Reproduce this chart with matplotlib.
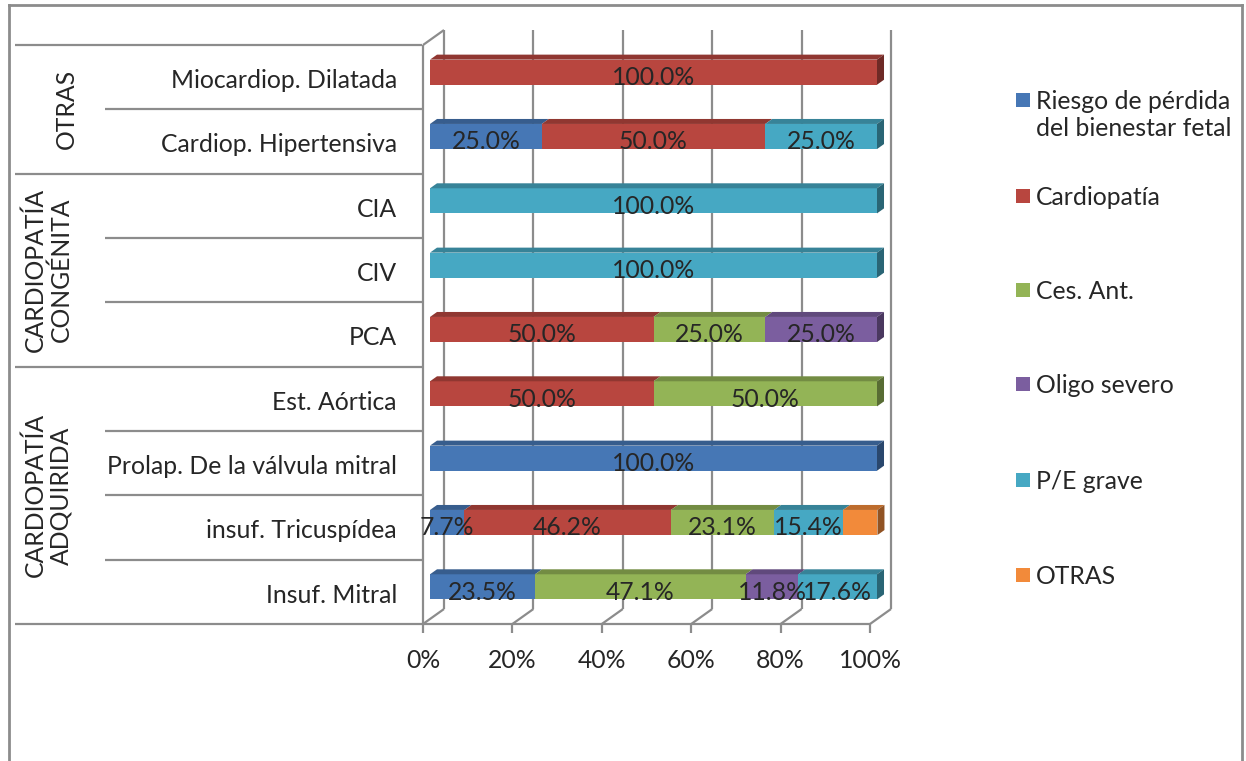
import matplotlib
matplotlib.use('Agg')
import matplotlib.pyplot as plt
from matplotlib.patches import Polygon, Rectangle
from matplotlib.transforms import blended_transform_factory

# categories from bottom to top
categories = ['Insuf. Mitral', 'insuf. Tricuspídea', 'Prolap. De la válvula mitral',
              'Est. Aórtica', 'PCA', 'CIV', 'CIA', 'Cardiop. Hipertensiva',
              'Miocardiop. Dilatada']
group_names = ['CARDIOPATÍA\nADQUIRIDA', 'CARDIOPATÍA\nCONGÉNITA', 'OTRAS']
group_first = [0, 4, 7]
group_last = [3, 6, 8]

series_names = ['Riesgo de pérdida\ndel bienestar fetal', 'Cardiopatía', 'Ces. Ant.',
                'Oligo severo', 'P/E grave', 'OTRAS']
riesgo = [23.5, 7.7, 100.0, 0, 0, 0, 0, 25.0, 0]
cardiopatia = [0, 46.2, 0, 50.0, 50.0, 0, 0, 50.0, 100.0]
ces_ant = [47.1, 23.1, 0, 50.0, 25.0, 0, 0, 0, 0]
oligo = [11.8, 0, 0, 0, 25.0, 0, 0, 0, 0]
pe_grave = [17.6, 15.4, 0, 0, 0, 100.0, 100.0, 25.0, 0]
otras = [0, 7.7, 0, 0, 0, 0, 0, 0, 0]
series_values = [riesgo, cardiopatia, ces_ant, oligo, pe_grave, otras]
series_labelled = [True, True, True, True, True, False]

ticks = [0, 20, 40, 60, 80, 100]
tick_labels = ['0%', '20%', '40%', '60%', '80%', '100%']

colors = ['#4677B5', '#B8463F', '#93B456', '#7B5E9F', '#46A8C3', '#F28A3A']

W, H = 1246, 761
FONT = 'Lato'
FS = 17.8
TXT = '#262626'
LINE = '#8C8C8C'


def fx(px):
    return px / W


def fy(py):
    return 1 - py / H


def shade(c, k):
    r, g, b = matplotlib.colors.to_rgb(c)
    return (r * k, g * k, b * k)


fig = plt.figure(figsize=(W / 100, H / 100), dpi=100)
ax = fig.add_axes([fx(423), fy(624), fx(870) - fx(423), fy(45) - fy(624)])
ax.set_xlim(0, 100)
ax.set_ylim(-0.5, len(categories) - 0.5)
ax.axis('off')

ymin, ymax = -0.5, len(categories) - 0.5
# depth of the 3d box in data units
DX, DY = 4.7, 0.233
lw = 1.6
kw = dict(color=LINE, lw=lw, clip_on=False, solid_capstyle='butt')

# back wall gridlines
for v in ticks:
    ax.plot([v + DX, v + DX], [ymin + DY, ymax + DY], zorder=1, **kw)
    ax.plot([v, v + DX], [ymin, ymin + DY], zorder=1, **kw)
    ax.plot([v, v], [ymin, ymin - 0.14], zorder=1, **kw)
ax.plot([0, 0], [ymin, ymax], zorder=1, **kw)
ax.plot([0, DX], [ymax, ymax + DY], zorder=1, **kw)
ax.plot([0, 100], [ymin, ymin], zorder=1, **kw)

# stacked bars with top and side faces
bh = 0.39
ox, oy = DX / 3, DY / 3
left = [0.0] * len(categories)
for vals, col, lab in zip(series_values, colors, series_labelled):
    ys = [i + oy for i in range(len(categories))]
    ax.barh(ys, vals, left=[l + ox for l in left], height=bh, color=col,
            zorder=3, clip_on=False)
    for i, v in enumerate(vals):
        if v <= 0:
            continue
        x0, x1 = left[i] + ox, left[i] + v + ox
        yb, yt = ys[i] - bh / 2, ys[i] + bh / 2
        ax.add_patch(Polygon([(x0, yt), (x1, yt), (x1 + ox, yt + oy), (x0 + ox, yt + oy)],
                             closed=True, fc=shade(col, 0.78), ec='none', zorder=3,
                             clip_on=False))
        if lab:
            ax.text((x0 + x1) / 2, ys[i] - 0.085, f'{v:.1f}%', ha='center', va='center',
                    fontsize=FS, family=FONT, color=TXT, zorder=5)
    left = [l + v for l, v in zip(left, vals)]

# right side faces
for i, tot in enumerate(left):
    last = [c for vals, c in zip(series_values, colors) if vals[i] > 0][-1]
    x1 = tot + ox
    yb, yt = i + oy - bh / 2, i + oy + bh / 2
    ax.add_patch(Polygon([(x1, yb), (x1, yt), (x1 + ox, yt + oy), (x1 + ox, yb + oy)],
                         closed=True, fc=shade(last, 0.6), ec='none', zorder=3,
                         clip_on=False))

# x tick labels
tb = blended_transform_factory(ax.transData, fig.transFigure)
for v, t in zip(ticks, tick_labels):
    ax.text(v, fy(661), t, transform=tb, ha='center', va='center',
            fontsize=FS, family=FONT, color=TXT)

# category table on the left
tr = blended_transform_factory(fig.transFigure, ax.transData)
for i, name in enumerate(categories):
    ax.text(fx(397), i - 0.05, name, transform=tr, ha='right', va='center',
            fontsize=FS, family=FONT, color=TXT)
bounds = [g - 0.5 for g in group_first] + [ymax]
for k in range(len(categories) + 1):
    y = k - 0.5
    start = 15 if y in bounds else 105
    ax.plot([fx(start), fx(422)], [y, y], transform=tr, **kw)

group_x = [48, 48, 66]
for name, a, b, gx in zip(group_names, group_first, group_last, group_x):
    ax.text(fx(gx), (a + b) / 2, name, transform=tr, rotation=90,
            ha='center', va='center', fontsize=FS, family=FONT, color=TXT,
            linespacing=1.15, multialignment='center')

# legend
leg_y = [100, 196, 290, 384, 480, 575]
for name, col, y in zip(series_names, colors, leg_y):
    fig.patches.append(Rectangle((fx(1016), fy(y + 7)), fx(14), 14 / H, fc=col,
                                 ec='none', transform=fig.transFigure))
    fig.text(fx(1036), fy(y - 10), name, ha='left', va='top', fontsize=FS,
             family=FONT, color=TXT, linespacing=1.2)

# chart frame
fig.add_artist(plt.Line2D([fx(9), fx(9)], [0, fy(5)], color=LINE, lw=2))
fig.add_artist(plt.Line2D([fx(9), fx(1242)], [fy(5), fy(5)], color=LINE, lw=2))
fig.add_artist(plt.Line2D([fx(1242), fx(1242)], [0, fy(5)], color=LINE, lw=2))

fig.savefig('out.png', dpi=100)
